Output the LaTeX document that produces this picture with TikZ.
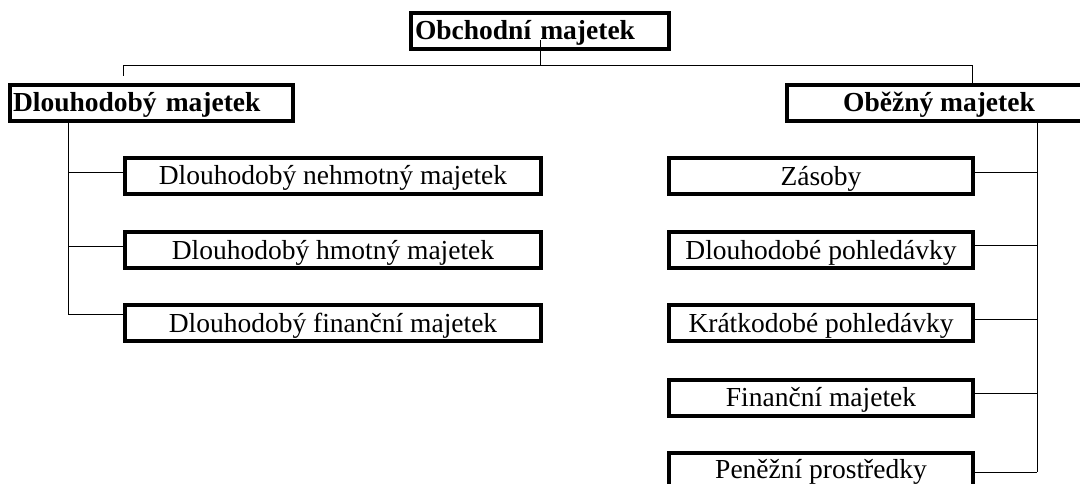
\documentclass[tikz,border=0pt]{standalone}
\usepackage{fontspec}
\setmainfont{Liberation Serif}
\begin{document}
\begin{tikzpicture}[x=1pt,y=-1pt,
  box/.style={draw=black, line width=4pt, minimum height=36pt, inner ysep=0pt,
    text height=22pt, text depth=4pt,
    font=\fontsize{27.5}{31}\selectfont, anchor=center},
  headbox/.style={box, font=\fontsize{27.5}{31}\selectfont\bfseries},
  subL/.style={box, minimum width=416pt},
  subR/.style={box, minimum width=304pt},
  conn/.style={draw=black, line width=1pt}]
\clip (0,0) rectangle (1080,484);
\fill[white] (0,0) rectangle (1080,484);

% headers
\node[headbox, text width=250pt, align=left, inner xsep=4pt] (top) at (540,31) {Obchodní majetek};
\node[headbox, text width=277pt, align=left, inner xsep=3pt] (dm) at (151.5,103) {Dlouhodobý majetek};
\node[headbox, minimum width=304pt] (om) at (939,103) {Oběžný majetek};

% left sub boxes
\node[subL] (l1) at (333,176) {Dlouhodobý nehmotný majetek};
\node[subL] (l2) at (333,250) {Dlouhodobý hmotný majetek};
\node[subL] (l3) at (333,323) {Dlouhodobý finanční majetek};

% right sub boxes
\node[subR] (r1) at (821,176.5) {Zásoby};
\node[subR] (r2) at (821,250) {Dlouhodobé pohledávky};
\node[subR] (r3) at (821,323) {Krátkodobé pohledávky};
\node[subR] (r4) at (821,397.5) {Finanční majetek};
\node[subR, text depth=6pt] (r5) at (821,470.5) {Peněžní prostředky};

% helper coordinates
\coordinate (bar) at (540,66);
\coordinate (barL) at (123,66);
\coordinate (barR) at (972,66);
\coordinate (vL) at (68,0);
\coordinate (vR) at (1037,0);
\coordinate (dmtop) at ([yshift=7pt]dm.north);
\coordinate (topbot) at ([yshift=11pt]top.south);
\coordinate (bl1) at ([yshift=3pt]l1.west);
\coordinate (bl2) at ([yshift=4pt]l2.west);
\coordinate (bl3) at ([yshift=9pt]l3.west);
\coordinate (br1) at ([yshift=3.5pt]r1.east);
\coordinate (br2) at ([yshift=5pt]r2.east);
\coordinate (br3) at ([yshift=4pt]r3.east);
\coordinate (br4) at ([yshift=4.5pt]r4.east);
\coordinate (br5) at ([yshift=-1.5pt]r5.east);

% top connectors
\draw[conn] (topbot) -- (bar);
\draw[conn] (barL |- dmtop) -- (barL) -- (barR) -- (barR |- om.north);

% left tree
\draw[conn] (vL |- dm.south) -- (vL |- bl3);
\foreach \b in {bl1,bl2,bl3} \draw[conn] (vL |- \b) -- (\b);

% right tree
\draw[conn] (vR |- om.south) -- (vR |- br5);
\foreach \b in {br1,br2,br3,br4,br5} \draw[conn] (\b) -- (vR |- \b);
\end{tikzpicture}
\end{document}
